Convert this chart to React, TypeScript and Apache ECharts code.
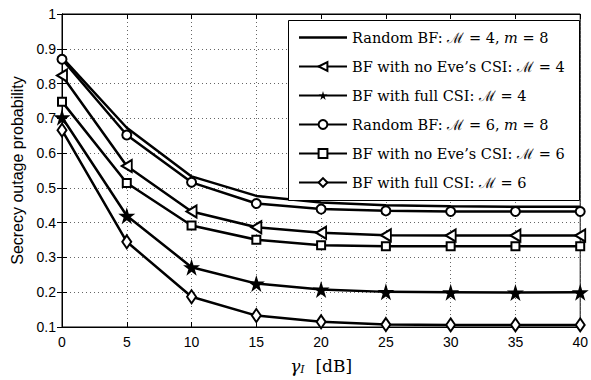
import React, { useEffect, useRef } from "react";
import * as echarts from "echarts";

const xValues = [0, 5, 10, 15, 20, 25, 30, 35, 40];
const randomM4 = [0.875, 0.673, 0.533, 0.477, 0.458, 0.45, 0.447, 0.446, 0.446];
const noEveM4 = [0.823, 0.563, 0.432, 0.387, 0.371, 0.364, 0.363, 0.363, 0.363];
const fullM4 = [0.703, 0.42, 0.272, 0.225, 0.208, 0.201, 0.2, 0.199, 0.2];
const randomM6 = [0.87, 0.652, 0.516, 0.455, 0.439, 0.434, 0.432, 0.432, 0.432];
const noEveM6 = [0.748, 0.514, 0.392, 0.351, 0.335, 0.332, 0.332, 0.332, 0.332];
const fullM6 = [0.666, 0.345, 0.187, 0.133, 0.115, 0.107, 0.106, 0.106, 0.106];

const seriesNames = [
  "Random BF: M = 4, m = 8",
  "BF with no Eve's CSI: M = 4",
  "BF with full CSI: M = 4",
  "Random BF: M = 6, m = 8",
  "BF with no Eve's CSI: M = 6",
  "BF with full CSI: M = 6",
];
const legendRich = [
  "Random BF: {m|ℳ} = 4, {i|m} = 8",
  "BF with no Eve’s CSI: {m|ℳ} = 4",
  "BF with full CSI: {m|ℳ} = 4",
  "Random BF: {m|ℳ} = 6, {i|m} = 8",
  "BF with no Eve’s CSI: {m|ℳ} = 6",
  "BF with full CSI: {m|ℳ} = 6",
];

const STAR = "path://M50,0 L61,35 L98,35 L68,57 L79,91 L50,70 L21,91 L32,57 L2,35 L39,35 Z";
const LEFT_TRI = "path://M0,50 L100,0 L100,100 Z";
const LINE_ICON = "path://M0,0 L48,0 L48,2.5 L0,2.5 Z";

export default function App() {
  const ref = useRef<HTMLDivElement>(null);
  useEffect(() => {
    const chart = echarts.init(ref.current!, undefined, { renderer: "svg" });
    const hollow = { color: "#fff", borderColor: "#000", borderWidth: 2 };
    const mk = (name: string, data: number[], symbol: string, size: any, itemStyle: any) => ({
      name,
      type: "line",
      data: data.map((v, i) => [xValues[i], v]),
      symbol,
      symbolSize: size,
      showSymbol: symbol !== "none",
      lineStyle: { color: "#000", width: 2.5 },
      itemStyle,
      z: 3,
    });
    const series = [
      mk(seriesNames[0], randomM4, "none", 0, { color: "#000" }),
      mk(seriesNames[1], noEveM4, LEFT_TRI, [10, 12], hollow),
      mk(seriesNames[2], fullM4, STAR, 17, { color: "#000", borderColor: "#000", borderWidth: 0 }),
      mk(seriesNames[3], randomM6, "circle", 9, hollow),
      mk(seriesNames[4], noEveM6, "rect", 8, hollow),
      mk(seriesNames[5], fullM6, "diamond", [9, 13], hollow),
    ];
    const tickLabel = { fontFamily: "Liberation Sans, Arial, sans-serif", fontSize: 14, color: "#000" };
    chart.setOption({
      animation: false,
      backgroundColor: "#fff",
      grid: { left: 62, right: 9, top: 14, bottom: 47, show: true, borderColor: "#000", borderWidth: 1 },
      xAxis: [
        {
          type: "value",
          min: 0,
          max: 40,
          interval: 5,
          axisLine: { lineStyle: { color: "#000", width: 1 } },
          axisTick: { inside: true, length: 5, lineStyle: { color: "#000" } },
          axisLabel: { ...tickLabel, margin: 8 },
          splitLine: { show: true, lineStyle: { color: "#666", type: [1, 3], width: 1 } },
          name: "{g|γ}{s|I}  [dB]",
          nameLocation: "middle",
          nameGap: 30,
          nameTextStyle: {
            rich: {
              g: { fontFamily: "DejaVu Serif, serif", fontSize: 17, fontStyle: "italic", color: "#000" },
              s: { fontFamily: "DejaVu Serif, serif", fontSize: 11, fontStyle: "italic", color: "#000", verticalAlign: "bottom", padding: [7, 0, 0, 0] },
            },
            fontFamily: "DejaVu Serif, serif",
            fontSize: 17,
            color: "#000",
          },
        },
        {
          type: "value",
          position: "top",
          min: 0,
          max: 40,
          interval: 5,
          axisLine: { show: true, lineStyle: { color: "#000" } },
          axisTick: { inside: true, length: 5, lineStyle: { color: "#000" } },
          axisLabel: { show: false },
          splitLine: { show: false },
        },
      ],
      yAxis: [
        {
          type: "value",
          min: 0.1,
          max: 1,
          interval: 0.1,
          axisLine: { show: true, lineStyle: { color: "#000", width: 1 } },
          axisTick: { show: true, inside: true, length: 5, lineStyle: { color: "#000" } },
          axisLabel: { ...tickLabel, margin: 6, formatter: (v: number) => String(Math.round(v * 10) / 10) },
          splitLine: { show: true, lineStyle: { color: "#666", type: [1, 3], width: 1 } },
          name: "Secrecy outage probability",
          nameLocation: "middle",
          nameGap: 34,
          nameTextStyle: { fontFamily: "Liberation Sans, Arial, sans-serif", fontSize: 16, color: "#000" },
        },
        {
          type: "value",
          position: "right",
          min: 0.1,
          max: 1,
          interval: 0.1,
          axisLine: { show: true, lineStyle: { color: "#000" } },
          axisTick: { show: true, inside: true, length: 5, lineStyle: { color: "#000" } },
          axisLabel: { show: false },
          splitLine: { show: false },
        },
      ],
      graphic: [
        {
          type: "rect",
          left: 288,
          top: 20,
          shape: { x: 0, y: 0, width: 291, height: 180 },
          style: { fill: "#fff", stroke: "#000", lineWidth: 1 },
          z: 5,
        },
      ],
      legend: {
        show: true,
        orient: "vertical",
        left: 288,
        top: 20,
        padding: [10, 10, 9, 10],
        itemWidth: 48,
        itemHeight: 11,
        itemGap: 14,
        z: 10,
        data: seriesNames.map((n, i) => (i === 0 ? { name: n, icon: LINE_ICON, itemStyle: { color: "#000" } } : { name: n })),
        formatter: (name: string) => legendRich[seriesNames.indexOf(name)],
        textStyle: {
          fontFamily: "DejaVu Serif, serif",
          fontSize: 14.5,
          color: "#000",
          rich: {
            m: { fontFamily: "DejaVu Serif, serif", fontSize: 14.5, color: "#000" },
            i: { fontFamily: "DejaVu Serif, serif", fontStyle: "italic", fontSize: 14.5, color: "#000" },
          },
        },
      },
      series,
    });
    return () => chart.dispose();
  }, []);
  return <div ref={ref} style={{ position: "fixed", left: 0, top: 0, width: 591, height: 380 }} />;
}
